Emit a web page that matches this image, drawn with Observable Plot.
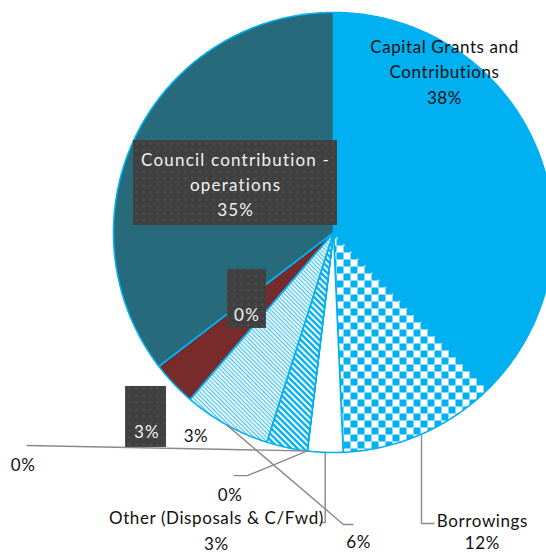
<!DOCTYPE html>
<html><head><meta charset="utf-8">
<script src="https://cdn.jsdelivr.net/npm/d3@7"></script>
<script src="https://cdn.jsdelivr.net/npm/@observablehq/plot@0.6"></script>
<style>
html,body{margin:0;padding:0;background:#fff;}
#chart{width:546px;height:553px;overflow:hidden;}
</style></head>
<body>
<svg width="0" height="0" style="position:absolute">
<defs>
<pattern id="checker" width="14" height="14" patternUnits="userSpaceOnUse">
<rect width="14" height="14" fill="#fff"/>
<rect x="0" y="0" width="7" height="7" rx="0.8" fill="#00B0F0"/>
<rect x="7" y="7" width="7" height="7" rx="0.8" fill="#00B0F0"/>
</pattern>
<pattern id="wideDiag" width="8" height="4.4" patternUnits="userSpaceOnUse" patternTransform="rotate(45)">
<rect width="8" height="4.4" fill="#fff"/>
<rect y="0" width="8" height="2.4" fill="#00B0F0"/>
</pattern>
<pattern id="lightDiag" width="8" height="3" patternUnits="userSpaceOnUse" patternTransform="rotate(45)">
<rect width="8" height="3" fill="#fff"/>
<rect y="0" width="8" height="1.3" fill="#4cc4f3"/>
</pattern>
<pattern id="dots" width="7" height="7" patternUnits="userSpaceOnUse">
<rect width="7" height="7" fill="#404040"/>
<circle cx="3.5" cy="3.5" r="1.3" fill="#4c4c4c"/>
</pattern>
</defs>
</svg>
<div id="chart"></div>
<script>
// ---- data ----
const categories = [
  "Capital Grants and Contributions",
  "Borrowings",
  "Other (Disposals & C/Fwd)",
  "Developer contributions",
  "Reserves",
  "Operating grants used for capital",
  "Council contribution - capital",
  "Asset sales",
  "Loans",
  "Council contribution - operations"
];
const values = [37.6, 11.7, 2.6, 0, 0, 3.0, 6.4, 3.3, 0, 35.4];
const pctLabels = ["38%", "12%", "3%", "0%", "0%", "3%", "6%", "3%", "0%", "35%"];
const showName = [true, true, true, false, false, false, false, false, false, true];

// ---- styles ----
const sliceFills = ["#00B0F0", "url(#checker)", "#ffffff", "#ffffff", "#ffffff",
  "url(#wideDiag)", "url(#lightDiag)", "#772B2B", "#ffffff", "#266A7C"];
const labelText = [
  "Capital Grants and\nContributions",
  "Borrowings",
  "Other (Disposals & C/Fwd)",
  "", "", "", "", "", "",
  "Council contribution -\noperations"
];
// label layout in pie-radius units (centre = 0,0)
const labelLayout = [
  {x: 0.5045, y: 0.737, lh: 1.49},
  {x: 0.677, y: -1.355, lh: 1.3, leader: [["mid"], ["midx", -1.323], [0.459, -1.323]]},
  {x: -0.532, y: -1.345, lh: 1.53, leader: [["mid"], ["midx", -1.318], [-0.055, -1.318]]},
  {x: -0.470, y: -1.185, leader: [["mid"], [-0.391, -1.105], [-0.455, -1.105]]},
  {x: -1.411, y: -1.049, leader: [["mid"], [-1.395, -0.968]]},
  {x: -0.625, y: -0.913},
  {x: 0.114, y: -1.397, leader: [["mid"], [0.045, -1.327], [0.091, -1.327]]},
  {x: -0.848, y: -0.899, box: [-0.945, -0.759, -0.700, -0.977]},
  {x: -0.393, y: -0.367, box: [-0.482, -0.305, -0.168, -0.436]},
  {x: -0.445, y: 0.226, lh: 1.47, box: [-0.909, 0.018, 0.418, 0.032]}
];

const rows = categories.map((c, i) => ({category: c, value: values[i], pct: pctLabels[i], i}));
const arcs = d3.pie().sort(null).value(d => d.value).startAngle(0).endAngle(2 * Math.PI)(rows);

const slicePolys = arcs.map(a => {
  const pts = [{x: 0, y: 0}];
  const n = Math.max(2, Math.ceil((a.endAngle - a.startAngle) / (Math.PI / 360)));
  for (let k = 0; k <= n; k++) {
    const t = a.startAngle + (a.endAngle - a.startAngle) * k / n;
    pts.push({x: Math.sin(t), y: Math.cos(t)});
  }
  pts.push({x: 0, y: 0});
  return pts;
});

const leaders = [];
arcs.forEach((a, i) => {
  const L = labelLayout[i];
  if (!L.leader) return;
  const m = (a.startAngle + a.endAngle) / 2;
  const mx = Math.sin(m), my = Math.cos(m);
  const pts = L.leader.map(p => p[0] === "mid" ? {x: mx, y: my, i} : {x: p[0] === "midx" ? mx : p[0], y: p[1], i});
  leaders.push(...pts);
});

const boxes = labelLayout.map((L, i) => L.box ? {x1: L.box[0], x2: L.box[1], y1: L.box[2], y2: L.box[3], i} : null).filter(Boolean);
const texts = arcs.map((a, i) => ({
  text: (showName[i] ? labelText[i] + "\n" : "") + a.data.pct,
  x: labelLayout[i].x, y: labelLayout[i].y,
  lh: labelLayout[i].lh || 1.5,
  dark: !!labelLayout[i].box
}));

const marks = [];
slicePolys.forEach((pts, i) => {
  marks.push(Plot.line(pts, {x: "x", y: "y", fill: sliceFills[i], stroke: "#00B0F0", strokeWidth: 1.6, strokeLinejoin: "miter"}));
});
marks.push(Plot.line(leaders, {x: "x", y: "y", z: "i", stroke: "#8a8a8a", strokeWidth: 1.4, strokeLinejoin: "miter", strokeLinecap: "butt"}));
marks.push(Plot.rect(boxes, {x1: "x1", x2: "x2", y1: "y1", y2: "y2", fill: "url(#dots)"}));
texts.forEach(t => {
  marks.push(Plot.text([t], {
    x: "x", y: "y", text: "text",
    fill: t.dark ? "#f2f2f2" : "#111",
    lineAnchor: "middle", lineHeight: t.lh, fontSize: 17
  }));
});

const chart = Plot.plot({
  width: 546, height: 553, margin: 0,
  x: {domain: [-333 / 220, 213 / 220], axis: null},
  y: {domain: [(232 - 553) / 220, 232 / 220], axis: null},
  style: {fontFamily: "Lato, 'Open Sans', sans-serif", fontSize: "17px", background: "#fff"},
  marks
});
chart.querySelectorAll("g[aria-label='text']").forEach(g => {
  const f = (g.getAttribute("fill") || (g.querySelector("text") && g.querySelector("text").getAttribute("fill")) || "").toLowerCase();
  g.style.letterSpacing = f === "#f2f2f2" ? "1.2px" : "0.6px";
});
document.getElementById("chart").appendChild(chart);
</script>
</body></html>
